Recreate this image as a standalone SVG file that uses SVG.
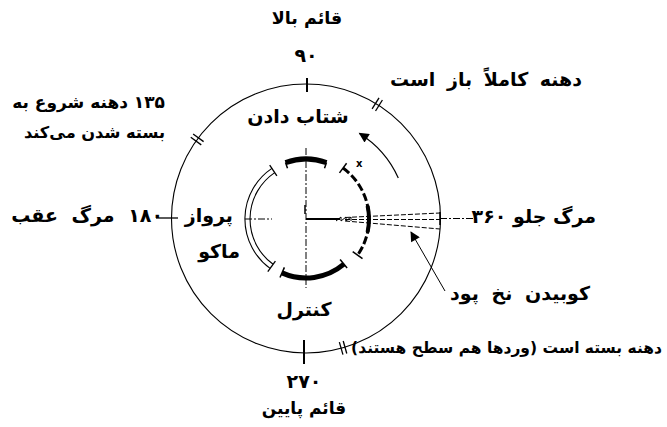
<svg xmlns="http://www.w3.org/2000/svg" xmlns:xlink="http://www.w3.org/1999/xlink" width="667" height="427" viewBox="0 0 667 427">
<style>
.t{font-family:"DejaVu Sans",sans-serif;font-weight:bold;font-size:19px;fill:#000;direction:rtl}
.thin{fill:none;stroke:#000;stroke-width:1.1}
.thick{fill:none;stroke:#000;stroke-width:5}
.dd{fill:none;stroke:#000;stroke-width:1;stroke-dasharray:7 2 2 2}
.dash{fill:none;stroke:#000;stroke-width:1;stroke-dasharray:5 2}
</style>
<defs>
<g id="dbl"><line x1="128" y1="-2" x2="141" y2="-2" stroke="#000" stroke-width="1.3"/><line x1="128" y1="2" x2="141" y2="2" stroke="#000" stroke-width="1.3"/></g>
<marker id="ah" viewBox="0 0 10 10" refX="9" refY="5" markerWidth="13" markerHeight="10" markerUnits="userSpaceOnUse" orient="auto"><path d="M0,0 L10,5 L0,10 Z" fill="#000"/></marker>
</defs>
<g id="outer-circle">
<circle cx="306" cy="218.5" r="134.5" class="thin"/>
<line x1="307" y1="78" x2="307" y2="92" stroke="#000" stroke-width="2"/>
<line x1="304" y1="340" x2="304" y2="364" stroke="#000" stroke-width="2"/>
<line x1="156" y1="218" x2="178" y2="218" stroke="#000" stroke-width="1.3"/>
<line x1="440" y1="212" x2="440" y2="225" stroke="#000" stroke-width="1.5"/>
<use xlink:href="#dbl" transform="translate(306,218.5) rotate(-58)"/>
<use xlink:href="#dbl" transform="translate(306,218.5) rotate(-144)"/>
<use xlink:href="#dbl" transform="translate(306,218.5) rotate(74)"/>
</g>
<g id="axes">
<line x1="306" y1="148" x2="306" y2="288" class="dd"/>
<line x1="245" y1="219" x2="272" y2="219" class="dd"/>
<line x1="305" y1="205" x2="305" y2="214" stroke="#000" stroke-width="1.5"/>
<line x1="306" y1="219" x2="340" y2="219" stroke="#000" stroke-width="2"/>
<path d="M336,221 L341,217 L341,221 L346,217 L346,221 L351,217 L351,221" fill="none" stroke="#000" stroke-width="1"/>
<line x1="345" y1="217.5" x2="440" y2="213" class="dash"/>
<line x1="345" y1="219.5" x2="440" y2="219.5" class="dash"/>
<line x1="345" y1="221" x2="440" y2="229" class="dash"/>
<line x1="440" y1="218.5" x2="475" y2="218.5" class="dd"/>
</g>
<g id="accel-arc">
<path d="M285.5,162.6 A60,60 0 0 1 326.5,162.6" class="thick" stroke-width="4.5"/>
<line x1="285.5" y1="162.6" x2="287.5" y2="168.3" stroke="#000" stroke-width="1.5"/>
<line x1="326.5" y1="162.6" x2="324.5" y2="168.3" stroke="#000" stroke-width="1.5"/>
</g>
<g id="flight-arc">
<path d="M271.9,168.4 A61,61 0 0 0 270.1,268.4" class="thin"/>
<path d="M274.7,172.6 A56,56 0 0 0 273.1,264.3" class="thin"/>
<line x1="276.9" y1="175.9" x2="269.7" y2="165.1" stroke="#000" stroke-width="1.3"/>
<line x1="275.4" y1="261.1" x2="267.8" y2="271.6" stroke="#000" stroke-width="1.3"/>
</g>
<g id="control-arc">
<path d="M282,272.9 A59,59 0 0 0 343.9,264.2" class="thick"/>
<line x1="284.4" y1="267.4" x2="280" y2="277.5" stroke="#000" stroke-width="1.5"/>
<line x1="340.1" y1="259.6" x2="347.1" y2="268" stroke="#000" stroke-width="1.5"/>
</g>
<g id="beat-arc">
<path d="M343,168 A63,63 0 0 1 357.6,255.1" fill="none" stroke="#000" stroke-width="3" stroke-dasharray="8 3"/>
<path d="M367.6,205.9 A63,63 0 0 1 367.6,232.1" fill="none" stroke="#000" stroke-width="4"/>
<line x1="339.5" y1="172.9" x2="346.6" y2="163.2" stroke="#000" stroke-width="1.5"/>
<line x1="352.7" y1="251.7" x2="362.5" y2="258.6" stroke="#000" stroke-width="1.5"/>
<text x="356" y="167" font-family="DejaVu Sans,sans-serif" font-size="10" font-weight="bold">x</text>
</g>
<g id="connectors">
<path d="M398.3,177.9 A101,101 0 0 0 359.5,133.4" fill="none" stroke="#000" stroke-width="1.2" marker-end="url(#ah)"/>
<path d="M445,291 L411,232" fill="none" stroke="#000" stroke-width="1" marker-end="url(#ah)"/>
</g>
<g id="labels">
<text class="t" x="307" y="24" text-anchor="middle" style="font-size:17.5px">قائم بالا</text>
<text class="t" x="306" y="62" text-anchor="middle">۹۰</text>
<text class="t" x="582" y="86" text-anchor="start" word-spacing="5">دهنه کاملاً باز است</text>
<text class="t" x="298" y="123" text-anchor="middle">شتاب دادن</text>
<text class="t" x="165" y="108" text-anchor="start" style="font-size:17px">۱۳۵ دهنه شروع به</text>
<text class="t" x="165" y="138" text-anchor="start" style="font-size:16.2px">بسته شدن می‌کند</text>
<text class="t" x="163" y="222" text-anchor="start" word-spacing="7">۱۸۰ مرگ عقب</text>
<text class="t" x="233" y="222" text-anchor="start">پرواز</text>
<text class="t" x="240" y="258" text-anchor="start">ماکو</text>
<text class="t" x="304" y="316" text-anchor="middle">کنترل</text>
<text class="t" x="596" y="223" text-anchor="start">مرگ جلو ۳۶۰</text>
<text class="t" x="590" y="300" text-anchor="start" word-spacing="6">کوبیدن نخ پود</text>
<text class="t" x="662" y="353" text-anchor="start" style="font-size:15.5px">دهنه بسته است (وردها هم سطح هستند)</text>
<text class="t" x="304" y="388" text-anchor="middle">۲۷۰</text>
<text class="t" x="304" y="414" text-anchor="middle" style="font-size:17px">قائم پایین</text>
</g>
</svg>
